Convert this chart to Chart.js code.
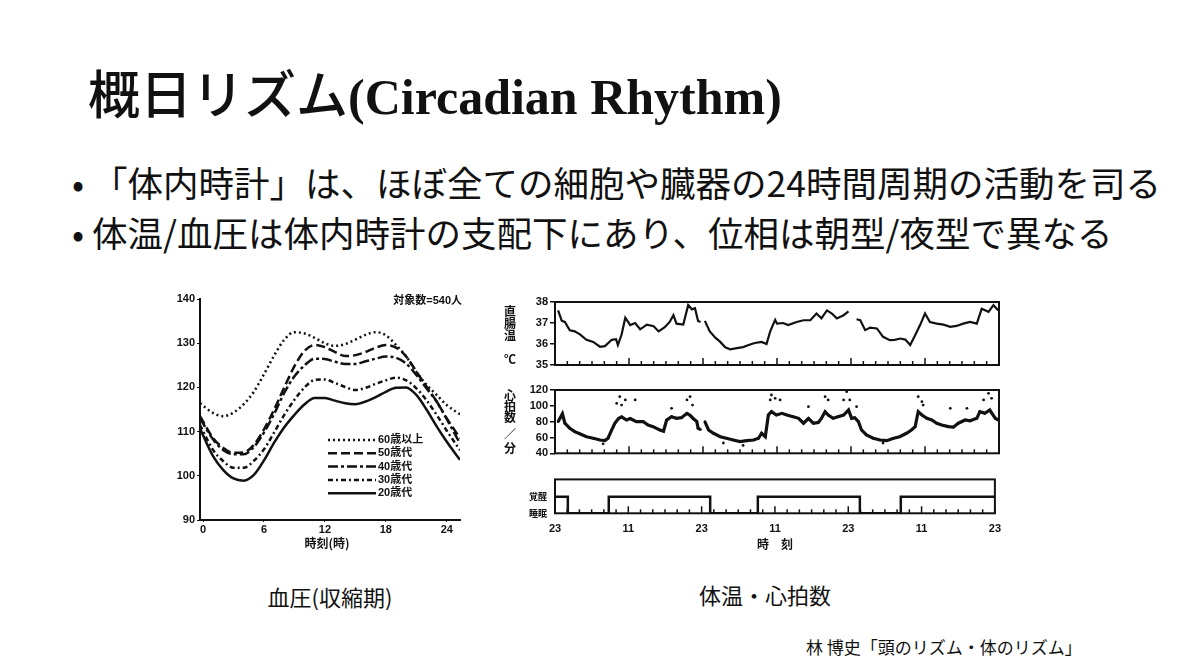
<!DOCTYPE html>
<html>
<head>
<meta charset="utf-8">
<title>概日リズム(Circadian Rhythm)</title>
<script src="https://cdn.jsdelivr.net/npm/chart.js"></script>
<style>
  body { margin: 0; width: 1200px; height: 672px; background: #fff; position: relative; overflow: hidden;
         font-family: "Noto Sans CJK JP", sans-serif; color: #111; }
  .abs { position: absolute; white-space: nowrap; }
  #title { left: 88px; top: 60px; line-height: 64px; }
  #title .jp { font-family: "Noto Sans CJK JP", sans-serif; font-size: 52px; font-weight: 500; }
  #title .en { font-family: "Liberation Serif", serif; font-size: 50px; font-weight: bold; }
  .bullet { left: 72px; font-size: 35.5px; line-height: 46px; }
  .cap { font-size: 22px; line-height: 26px; transform: translateX(-50%); }
  canvas { position: absolute; }
</style>
</head>
<body>
  <div id="title" class="abs"><span class="jp">概日リズム</span><span class="en">(Circadian Rhythm)</span></div>
  <div class="abs bullet" style="top:159px">• 「体内時計」は、ほぼ全ての細胞や臓器の24時間周期の活動を司る</div>
  <div class="abs bullet" style="top:209px">• 体温/血圧は体内時計の支配下にあり、位相は朝型/夜型で異なる</div>

  <canvas id="bpChart" width="320" height="280" style="left:150px; top:285px"></canvas>
  <canvas id="tempChart" width="520" height="84" style="left:490px; top:290px"></canvas>
  <canvas id="hrChart" width="520" height="82" style="left:490px; top:380px"></canvas>
  <canvas id="sleepChart" width="520" height="90" style="left:490px; top:466px"></canvas>

  <div class="abs cap" style="left:330px; top:583px">血圧(収縮期)</div>
  <div class="abs cap" style="left:765px; top:581px">体温・心拍数</div>
  <div class="abs" style="left:806px; top:635px; font-size:17px; line-height:24px">林 博史「頭のリズム・体のリズム」</div>

  <script>
    // 血圧(収縮期) - 年代別, 時刻(時)
    const bpHours = [-0.3, 1, 2, 3, 4, 5, 6, 7, 8, 9, 10, 11, 12, 13, 14, 15, 16, 17, 18, 19, 20, 21, 22, 23, 24, 25.3];
    const bp60 = [116.4, 114.2, 113.5, 114.3, 116.2, 119.0, 123.0, 127.2, 130.8, 132.5, 132.2, 131.2, 130.0, 129.4, 129.8, 130.8, 131.9, 132.5, 131.8, 129.6, 127.0, 123.5, 120.6, 118.3, 116.0, 113.9];
    const bp50 = [113.5, 108.5, 106.3, 105.2, 105.3, 107.0, 110.5, 115.0, 120.0, 124.8, 128.3, 129.6, 129.1, 128.0, 127.1, 127.3, 128.0, 129.0, 129.6, 129.0, 127.0, 123.6, 120.2, 116.8, 113.0, 108.5];
    const bp40 = [113.0, 108.2, 105.8, 104.9, 104.9, 106.5, 109.8, 114.0, 118.8, 122.5, 125.0, 126.5, 126.4, 125.8, 125.3, 125.3, 125.9, 126.5, 127.0, 126.7, 125.4, 122.8, 119.8, 116.8, 112.8, 107.3];
    const bp30 = [111.5, 105.8, 103.3, 101.8, 101.8, 103.4, 106.0, 109.8, 113.8, 117.2, 120.0, 121.7, 121.8, 121.0, 120.1, 119.4, 119.9, 120.8, 121.6, 122.2, 121.6, 119.8, 117.1, 113.8, 110.2, 105.8];
    const bp20 = [110.7, 104.4, 101.3, 99.4, 98.9, 100.2, 103.5, 107.5, 111.0, 113.8, 116.2, 117.6, 117.6, 117.0, 116.4, 116.2, 116.8, 117.8, 119.0, 119.9, 120.0, 118.3, 115.0, 111.2, 107.7, 103.6];
    const bpLabels = ['60歳以上', '50歳代', '40歳代', '30歳代', '20歳代'];
    const bpTicksX = [0, 6, 12, 18, 24];
    const bpTicksY = [90, 100, 110, 120, 130, 140];

    // 直腸温 (℃), 経過時間 0 = 23時
    const tempHours = [0.5, 1.1, 1.6, 2.4, 3.2, 4.1, 5.1, 6.2, 7.3, 8.1, 9.2, 9.9, 10.2, 10.8, 11.4, 12.2, 13.0, 13.8, 14.9, 16.0, 16.8, 17.8, 18.6, 19.2, 19.7, 20.8, 21.6, 22.2, 22.7, 23.2, 23.6, 24.0,
                       24.3, 25.1, 26.0, 26.8, 27.6, 28.4, 29.5, 30.5, 31.4, 32.4, 33.5, 34.3, 34.9, 35.7, 36.0, 37.0, 37.8, 39.2, 40.3, 41.4, 42.4, 43.2, 44.1, 44.9, 45.7, 46.8, 47.6, 48.2,
                       48.9, 49.5, 50.3, 51.1, 52.2, 53.2, 54.3, 55.1, 56.0, 56.8, 57.6, 58.4, 59.2, 60.0, 60.8, 61.9, 63.0, 64.1, 65.1, 66.2, 67.3, 68.4, 69.2, 70.3, 71.1, 71.9];
    const tempValues = [37.6, 37.1, 37.05, 36.65, 36.6, 36.45, 36.2, 36.1, 35.87, 35.9, 36.2, 36.23, 35.95, 36.45, 37.25, 36.9, 37.0, 36.7, 36.92, 36.85, 36.6, 36.8, 37.05, 37.37, 36.97, 36.93, 37.85, 37.65, 37.7, 37.1, 37.05, null,
                        37.1, 36.6, 36.3, 36.1, 35.84, 35.75, 35.8, 35.85, 35.95, 36.05, 36.1, 36.0, 36.6, 37.15, 36.97, 37.0, 36.9, 37.05, 37.13, 37.13, 37.45, 37.22, 37.6, 37.45, 37.22, 37.37, 37.55, null,
                        37.18, 37.13, 36.66, 36.78, 36.74, 36.34, 36.18, 36.2, 36.26, 36.21, 35.95, 36.42, 36.9, 37.45, 37.05, 36.97, 36.92, 36.82, 36.86, 36.97, 37.05, 36.97, 37.68, 37.53, 37.85, 37.6];
    const tempTicks = [35, 36, 37, 38];

    // 心拍数 (/分)
    const hrHours = [0.5, 1.2, 1.6, 2.4, 3.2, 4.1, 5.1, 6.2, 7.3, 8.1, 8.6, 9.2, 9.7, 10.3, 10.8, 11.6, 12.2, 13.2, 14.3, 15.1, 15.9, 17.0, 17.6, 18.1, 18.9, 19.7, 20.5, 21.4, 21.9, 22.4, 23.0, 23.2, 23.6, 24.0,
                     24.3, 24.9, 25.7, 26.8, 27.8, 28.9, 30.0, 31.1, 32.2, 33.0, 33.5, 34.1, 34.6, 35.1, 35.9, 36.8, 37.6, 38.6, 39.5, 40.3, 41.1, 41.9, 42.7, 43.2, 43.8, 44.3, 45.1, 45.9, 46.8, 47.6, 48.1, 48.6,
                     49.2, 49.7, 50.5, 51.6, 52.7, 53.8, 54.9, 55.9, 57.0, 57.8, 58.4, 58.9, 59.5, 60.3, 61.1, 61.9, 62.7, 63.8, 64.6, 65.4, 66.5, 67.3, 68.4, 68.9, 69.7, 70.5, 71.4, 71.9];
    const hrValues = [80, 90, 78, 71.6, 67.4, 64.4, 61, 59, 56.8, 56, 59, 69.5, 78, 84, 86, 82, 84, 80, 80, 75.8, 73.7, 69.5, 68, 82, 86.3, 84.2, 85, 90.5, 88, 84, 80, 71.6, 70, null,
                      80, 69.5, 65.3, 61, 59, 56.8, 54.7, 56, 56.8, 59, 65.3, 61, 88.4, 92.6, 88.4, 90.5, 88.4, 86.3, 84.2, 78, 84, 78, 79, 84, 92.6, 88.4, 84.2, 86.3, 88.4, 94.7, 84.2, 85,
                      80, 69.5, 63.2, 59, 56.8, 56, 59, 61, 65.3, 69.5, 73.7, 92.6, 88.4, 84.2, 82.1, 78, 75.8, 73.7, 73, 78, 82.1, 81, 84.2, 92.6, 90.5, 94.7, 84.2, 82];
    const hrDotHours = [7.8, 10.0, 10.5, 10.8, 11.4, 13.0, 18.9, 21.4, 21.9, 22.3, 27.3, 30.5, 34.9, 35.1, 35.7, 36.5, 41.1, 43.8, 44.3, 46.8, 47.3, 47.8, 48.9, 53.2, 58.9, 59.5, 59.7, 64.1, 66.8, 69.5, 70.3, 70.8];
    const hrDotValues = [52, 103, 111.6, 101, 107.4, 107.4, 96.8, 107.4, 111.6, 101, 53, 50, 107.4, 113.7, 109.5, 107.4, 98.9, 111.6, 107.4, 107.4, 117.9, 107.4, 98.9, 53, 111.6, 105.3, 101, 96.8, 96.8, 107.4, 115.8, 109.5];
    const hrTicks = [40, 60, 80, 100, 120];

    // 覚醒(1) / 睡眠(0)
    const sleepHours = [0, 2.1, 8.8, 25.4, 33.2, 49.9, 56.6, 72];
    const sleepState = [1, 0, 1, 0, 1, 0, 1, 1];
    const sleepLabels = ['睡眠', '覚醒'];

    const timeTicks = [0, 12, 24, 36, 48, 60, 72];
    const timeTickLabels = ['23', '11', '23', '11', '23', '11', '23'];

    const ink = '#111';
    Chart.defaults.font.family = '"Liberation Sans", "Noto Sans CJK JP", sans-serif';
    Chart.defaults.font.weight = 'bold';
    Chart.defaults.font.size = 11;
    Chart.defaults.color = ink;
    Chart.defaults.animation = false;

    const pts = (xs, ys) => xs.map((x, i) => ({ x: x, y: ys[i] }));
    const fixTicks = list => scale => { scale.ticks = list.map(v => ({ value: v })); };

    // free text drawn on the canvas
    const textPlugin = {
      id: 'texts',
      afterDraw(chart, args, opts) {
        const ctx = chart.ctx;
        ctx.save();
        ctx.fillStyle = ink;
        ctx.textBaseline = 'middle';
        (opts.items || []).forEach(t => {
          ctx.font = t.font || 'bold 11px "Liberation Sans", "Noto Sans CJK JP", sans-serif';
          ctx.textAlign = t.align || 'center';
          ctx.fillText(t.text, t.x, t.y);
        });
        ctx.restore();
      }
    };

    // closed box + inward hour ticks on the right panels
    const framePlugin = {
      id: 'frame',
      afterDraw(chart, args, opts) {
        if (!opts.on) return;
        const { ctx, chartArea: a } = chart;
        const x = chart.scales.x;
        ctx.save();
        ctx.strokeStyle = ink;
        ctx.lineWidth = 2;
        ctx.strokeRect(a.left, a.top, a.right - a.left, a.bottom - a.top);
        ctx.lineWidth = 1.5;
        for (let h = 0; h <= 72; h += 2) {
          const px = x.getPixelForValue(h);
          const len = h % 12 === 0 ? 7 : 4;
          ctx.beginPath();
          ctx.moveTo(px, a.bottom);
          ctx.lineTo(px, a.bottom - len);
          ctx.stroke();
        }
        ctx.restore();
      }
    };

    // legend inside the blood-pressure plot
    const bpLegend = {
      id: 'bpLegend',
      afterDraw(chart, args, opts) {
        if (!opts.on) return;
        const ctx = chart.ctx;
        ctx.save();
        chart.data.datasets.forEach((ds, i) => {
          const y = opts.y0 + i * opts.step;
          ctx.strokeStyle = ink;
          ctx.lineWidth = ds.borderWidth;
          ctx.setLineDash(ds.borderDash || []);
          ctx.beginPath();
          ctx.moveTo(opts.x0, y);
          ctx.lineTo(opts.x1, y);
          ctx.stroke();
          ctx.setLineDash([]);
          ctx.fillStyle = ink;
          ctx.font = 'bold 11px "Liberation Sans", "Noto Sans CJK JP", sans-serif';
          ctx.textAlign = 'left';
          ctx.textBaseline = 'middle';
          ctx.fillText(ds.label, opts.x1 + 2, y);
        });
        ctx.restore();
      }
    };

    function sideAxis(min, max, ticks) {
      return {
        min: min, max: max,
        afterBuildTicks: fixTicks(ticks),
        afterFit: s => { s.width = 65; },
        grid: { drawOnChartArea: false, drawTicks: true, tickLength: 5, color: ink, lineWidth: 1.5 },
        border: { display: false },
        ticks: { padding: 2, autoSkip: false }
      };
    }

    function lineSet(label, values, dash) {
      return {
        label: label, data: pts(bpHours, values), borderColor: ink, borderWidth: 2.5,
        borderDash: dash, pointRadius: 0, cubicInterpolationMode: 'monotone', fill: false
      };
    }

    new Chart(document.getElementById('bpChart'), {
      type: 'line',
      data: {
        datasets: [
          lineSet(bpLabels[0], bp60, [2, 3]),
          lineSet(bpLabels[1], bp50, [9, 4]),
          lineSet(bpLabels[2], bp40, [10, 3, 3, 3]),
          lineSet(bpLabels[3], bp30, [5, 3, 2, 3]),
          lineSet(bpLabels[4], bp20, [])
        ]
      },
      options: {
        responsive: false,
        layout: { padding: { top: 14, right: 10, left: 0, bottom: 0 } },
        scales: {
          x: {
            type: 'linear', min: -0.3, max: 25.3,
            afterBuildTicks: fixTicks(bpTicksX),
            afterFit: s => { s.height = 45; },
            grid: { drawOnChartArea: false, drawTicks: true, tickLength: 2, color: ink },
            border: { display: true, color: ink, width: 2 },
            ticks: { padding: 1 }
          },
          y: {
            min: 90, max: 140,
            afterBuildTicks: fixTicks(bpTicksY),
            afterFit: s => { s.width = 50; },
            grid: { drawOnChartArea: false, drawTicks: true, tickLength: 3, color: ink },
            border: { display: true, color: ink, width: 2 },
            ticks: { padding: 2 }
          }
        },
        plugins: {
          legend: { display: false },
          tooltip: { enabled: false },
          bpLegend: { on: true, x0: 178, x1: 226, y0: 155, step: 13.3 },
          texts: { items: [
            { text: '対象数=540人', x: 312, y: 16, align: 'right' },
            { text: '時刻(時)', x: 177, y: 258, font: 'bold 12px "Noto Sans CJK JP", sans-serif' }
          ] }
        }
      },
      plugins: [bpLegend, textPlugin]
    });

    const vFont = 'bold 12px "Noto Sans CJK JP", sans-serif';

    new Chart(document.getElementById('tempChart'), {
      type: 'line',
      data: {
        datasets: [{
          data: pts(tempHours, tempValues), borderColor: ink, borderWidth: 2.2,
          pointRadius: 0, tension: 0, spanGaps: false
        }]
      },
      options: {
        responsive: false,
        layout: { padding: { top: 12, right: 11, left: 0, bottom: 9 } },
        scales: {
          x: { type: 'linear', min: 0, max: 72, afterFit: s => { s.height = 0; },
               ticks: { display: false }, grid: { display: false }, border: { display: false } },
          y: sideAxis(35, 38, tempTicks)
        },
        plugins: {
          legend: { display: false },
          tooltip: { enabled: false },
          frame: { on: true },
          texts: { items: [
            { text: '直', x: 20, y: 21, font: vFont },
            { text: '腸', x: 20, y: 33, font: vFont },
            { text: '温', x: 20, y: 45, font: vFont },
            { text: '℃', x: 20, y: 69, font: vFont }
          ] }
        }
      },
      plugins: [framePlugin, textPlugin]
    });

    new Chart(document.getElementById('hrChart'), {
      type: 'line',
      data: {
        datasets: [{
          data: pts(hrHours, hrValues), borderColor: ink, borderWidth: 3.2,
          pointRadius: 1.3, pointBackgroundColor: ink, pointBorderWidth: 0, tension: 0, spanGaps: false
        }, {
          data: pts(hrDotHours, hrDotValues), showLine: false, pointRadius: 1.4,
          pointBackgroundColor: ink, pointBorderWidth: 0
        }]
      },
      options: {
        responsive: false,
        layout: { padding: { top: 10, right: 11, left: 0, bottom: 8.7 } },
        scales: {
          x: { type: 'linear', min: 0, max: 72, afterFit: s => { s.height = 0; },
               ticks: { display: false }, grid: { display: false }, border: { display: false } },
          y: sideAxis(40, 120, hrTicks)
        },
        plugins: {
          legend: { display: false },
          tooltip: { enabled: false },
          frame: { on: true },
          texts: { items: [
            { text: '心', x: 20, y: 15, font: vFont },
            { text: '拍', x: 20, y: 26, font: vFont },
            { text: '数', x: 20, y: 37, font: vFont },
            { text: '／', x: 20, y: 54, font: vFont },
            { text: '分', x: 20, y: 68, font: vFont }
          ] }
        }
      },
      plugins: [framePlugin, textPlugin]
    });

    new Chart(document.getElementById('sleepChart'), {
      type: 'line',
      data: {
        datasets: [{
          data: pts(sleepHours, sleepState), borderColor: ink, borderWidth: 2.5,
          pointRadius: 0, stepped: true
        }]
      },
      options: {
        responsive: false,
        layout: { padding: { top: 10, right: 11, left: 0, bottom: 0 } },
        scales: {
          x: {
            type: 'linear', min: 0, max: 72,
            afterBuildTicks: fixTicks(timeTicks),
            afterFit: s => { s.height = 42.7; },
            grid: { display: false, drawTicks: false }, border: { display: false },
            ticks: { padding: 9, autoSkip: false, maxRotation: 0, callback: v => timeTickLabels[timeTicks.indexOf(v)], font: { size: 11, weight: 'bold' } }
          },
          y: {
            min: 0, max: 2.05,
            afterBuildTicks: fixTicks([0, 1]),
            afterFit: s => { s.width = 65; },
            grid: { display: false, drawTicks: false }, border: { display: false },
            ticks: { padding: 8, callback: v => sleepLabels[v], font: { size: 9, weight: 'bold', family: '"Noto Sans CJK JP", sans-serif' } }
          }
        },
        plugins: {
          legend: { display: false },
          tooltip: { enabled: false },
          frame: { on: true },
          texts: { items: [
            { text: '時　刻', x: 285, y: 78, font: 'bold 12px "Noto Sans CJK JP", sans-serif' }
          ] }
        }
      },
      plugins: [framePlugin, textPlugin]
    });
  </script>
</body>
</html>
